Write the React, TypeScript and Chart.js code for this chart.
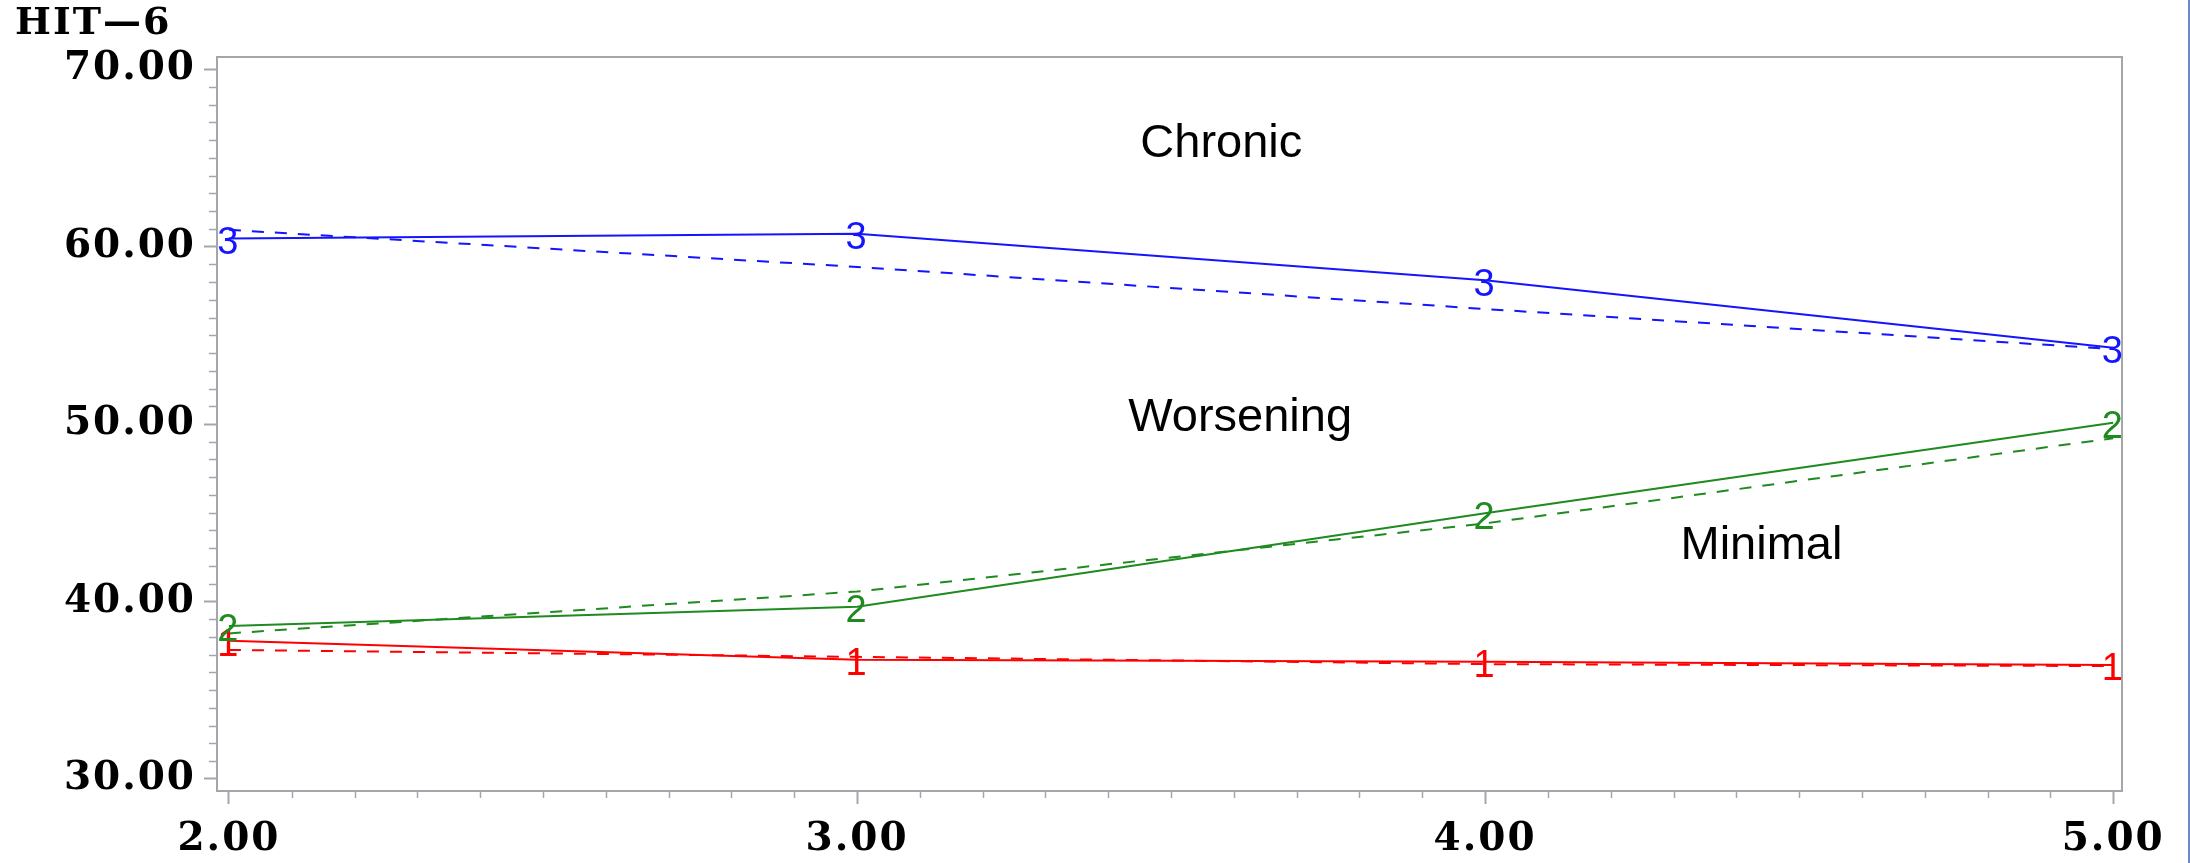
import React, { useEffect, useRef } from "react";
import { Chart, registerables } from "chart.js";

Chart.register(...registerables);

// ---- data ----
const timePoints = [2, 3, 4, 5];
const xTickLabels = ["2.00", "3.00", "4.00", "5.00"];
const yTickValues = [30, 40, 50, 60, 70];

const minimalObserved = [37.78, 36.72, 36.6, 36.42];
const minimalFitted = [37.27, 36.88, 36.47, 36.36];
const worseningObserved = [38.62, 39.7, 44.97, 50.07];
const worseningFitted = [38.2, 40.56, 44.4, 49.2];
const chronicObserved = [60.45, 60.72, 58.1, 54.3];
const chronicFitted = [60.94, 58.85, 56.48, 54.22];

const groupSymbols = ["1", "2", "3"];
const groupNames = ["Minimal", "Worsening", "Chronic"];
const groupColors = ["#ff0000", "#1f8a1f", "#1414ff"];
const groupLabelX = [4.44, 3.61, 3.58];
const groupLabelY = [42.37, 49.6, 65.03];

const yAxisTitle = "HIT\u20146";

const X_MIN = 1.981;
const X_MAX = 5.014;
const Y_MIN = 29.32;
const Y_MAX = 70.68;

const AXIS_GRAY = "#a3a7ab";
const TICK_FONT = { family: "'DejaVu Serif'", weight: "bold" as const, size: 39 };

function toPoints(values: number[]) {
  return values.map((y, i) => ({ x: timePoints[i], y }));
}

export default function App() {
  const canvasRef = useRef<HTMLCanvasElement | null>(null);

  useEffect(() => {
    const canvas = canvasRef.current;
    if (!canvas) return;

    const observed = [minimalObserved, worseningObserved, chronicObserved];
    const fitted = [minimalFitted, worseningFitted, chronicFitted];

    const datasets: any[] = [];
    for (let g = 0; g < 3; g++) {
      datasets.push({
        label: groupNames[g] + " fitted",
        data: toPoints(fitted[g]),
        borderColor: groupColors[g],
        borderWidth: 2,
        borderDash: [12, 11],
        pointRadius: 0,
        fill: false,
        tension: 0,
      });
    }
    for (let g = 0; g < 3; g++) {
      datasets.push({
        label: groupNames[g],
        data: toPoints(observed[g]),
        borderColor: groupColors[g],
        borderWidth: 2,
        pointRadius: 0,
        fill: false,
        tension: 0,
      });
    }

    const sasPlugin = {
      id: "sasDecor",
      beforeDraw(chart: any) {
        chart.ctx.letterSpacing = "2px";
      },
      beforeDatasetsDraw(chart: any) {
        const { ctx, chartArea, scales } = chart;
        ctx.save();
        ctx.strokeStyle = AXIS_GRAY;
        ctx.lineWidth = 2;
        ctx.strokeRect(chartArea.left, chartArea.top, chartArea.right - chartArea.left, chartArea.bottom - chartArea.top);
        // minor ticks
        ctx.lineWidth = 1.5;
        ctx.beginPath();
        for (let k = 21; k < 50; k++) {
          if (k % 10 === 0) continue;
          const px = Math.round(scales.x.getPixelForValue(k / 10)) + 0.5;
          ctx.moveTo(px, chartArea.bottom);
          ctx.lineTo(px, chartArea.bottom + 7);
        }
        for (let v = 31; v < 70; v++) {
          if (v % 10 === 0) continue;
          const py = Math.round(scales.y.getPixelForValue(v)) + 0.5;
          ctx.moveTo(chartArea.left - 8, py);
          ctx.lineTo(chartArea.left, py);
        }
        ctx.stroke();
        ctx.restore();
      },
      afterDatasetsDraw(chart: any) {
        const { ctx, scales } = chart;
        ctx.save();
        ctx.letterSpacing = "0px";
        // group symbols at observed points
        ctx.font = "38px 'Liberation Sans'";
        ctx.textAlign = "center";
        ctx.textBaseline = "middle";
        for (let g = 0; g < 3; g++) {
          const meta = chart.getDatasetMeta(3 + g);
          ctx.fillStyle = groupColors[g];
          meta.data.forEach((pt: any) => {
            ctx.fillText(groupSymbols[g], pt.x - 1, pt.y + 5);
          });
        }
        // group names
        ctx.font = "47px 'Liberation Sans'";
        ctx.fillStyle = "#000";
        ctx.textBaseline = "alphabetic";
        for (let g = 0; g < 3; g++) {
          ctx.fillText(groupNames[g], scales.x.getPixelForValue(groupLabelX[g]), scales.y.getPixelForValue(groupLabelY[g]));
        }
        ctx.restore();
      },
    };

    const chart = new Chart(canvas, {
      type: "line",
      data: { datasets },
      options: {
        animation: false,
        responsive: false,
        maintainAspectRatio: false,
        devicePixelRatio: 1,
        layout: { padding: { left: 15, top: 0, right: 68, bottom: 0 } },
        plugins: {
          legend: { display: false },
          tooltip: { enabled: false },
          title: {
            display: true,
            text: yAxisTitle,
            align: "start",
            color: "#000",
            font: { family: "'DejaVu Serif'", weight: "bold", size: 38, lineHeight: 1.2 },
            padding: { top: 1.5, bottom: 9.9 },
          },
        },
        scales: {
          x: {
            type: "linear",
            min: X_MIN,
            max: X_MAX,
            afterBuildTicks: (s: any) => {
              s.ticks = timePoints.map((v) => ({ value: v }));
            },
            afterFit: (s: any) => {
              s.height = 72;
            },
            ticks: {
              autoSkip: false,
              maxRotation: 0,
              color: "#000",
              font: TICK_FONT,
              padding: 12,
              callback: (v: any) => {
                const i = timePoints.indexOf(Number(v));
                return i >= 0 ? xTickLabels[i] : "";
              },
            },
            grid: {
              display: true,
              drawOnChartArea: false,
              drawTicks: true,
              tickLength: 13,
              tickColor: AXIS_GRAY,
              tickWidth: 2,
            },
            border: { display: false },
          },
          y: {
            type: "linear",
            min: Y_MIN,
            max: Y_MAX,
            afterBuildTicks: (s: any) => {
              s.ticks = yTickValues.map((v) => ({ value: v }));
            },
            afterFit: (s: any) => {
              s.width = 202;
            },
            ticks: {
              color: "#000",
              font: TICK_FONT,
              padding: 8,
              callback: (v: any) => Number(v).toFixed(2),
            },
            grid: {
              display: true,
              drawOnChartArea: false,
              drawTicks: true,
              tickLength: 13,
              tickColor: AXIS_GRAY,
              tickWidth: 2,
            },
            border: { display: false },
          },
        },
      },
      plugins: [sasPlugin],
    } as any);

    return () => {
      chart.destroy();
    };
  }, []);

  return (
    <div
      style={{
        position: "fixed",
        left: 0,
        top: 0,
        width: 2190,
        height: 863,
        background: "#ffffff",
        overflow: "hidden",
      }}
    >
      <canvas ref={canvasRef} width={2190} height={863} style={{ display: "block" }} />
      <div
        style={{
          position: "absolute",
          left: 2188,
          top: 0,
          width: 2,
          height: 863,
          background: "#6a8ac4",
        }}
      />
    </div>
  );
}
